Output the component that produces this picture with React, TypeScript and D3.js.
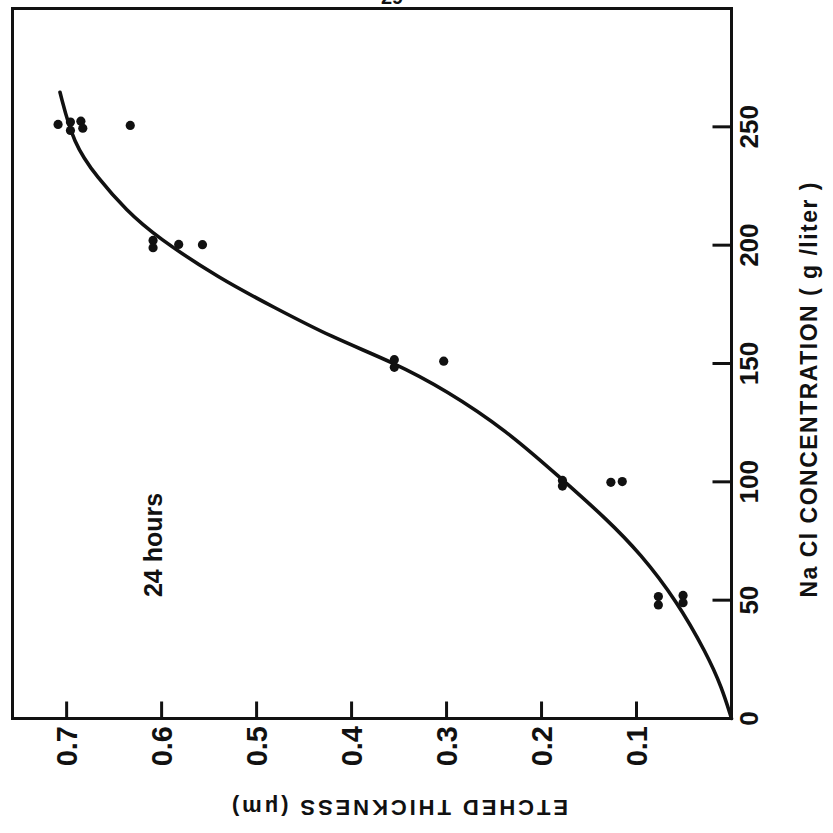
import React from "react";
import * as d3 from "d3";

// Concentration (g/liter) vs etched thickness (µm); chart is drawn rotated 90° CCW
const concTicks = [0, 50, 100, 150, 200, 250];
const thickTicks = [0.1, 0.2, 0.3, 0.4, 0.5, 0.6, 0.7];
const thickTickLabels = ["0.1", "0.2", "0.3", "0.4", "0.5", "0.6", "0.7"];

// measured points
const pointConc = [
  251, 252, 248.5, 252.4, 249.4, 250.6,
  202, 198.9, 200.3, 200.2,
  151.6, 148.4, 151,
  100.6, 98.2, 99.8, 100.1,
  51.5, 48, 52, 48.9,
];
const pointThick = [
  0.709, 0.696, 0.696, 0.685, 0.683, 0.633,
  0.609, 0.609, 0.582, 0.557,
  0.355, 0.355, 0.303,
  0.178, 0.178, 0.127, 0.115,
  0.077, 0.077, 0.051, 0.051,
];

// fitted curve
const curveConc = [0, 13.2, 27.3, 49.9, 69.7, 84.1, 102, 121.7, 138.6, 150.5, 161.1, 173.6, 185.9, 203.4, 214.6, 228.7, 242.9, 264.6];
const curveThick = [0, 0.0103, 0.026, 0.058, 0.096, 0.131, 0.181, 0.237, 0.3, 0.356, 0.421, 0.481, 0.539, 0.605, 0.637, 0.668, 0.693, 0.707];

const concDomain = [0, 300];
const thickDomain = [0, 0.757];

const FONT = "'Liberation Sans', Arial, sans-serif";

export default function App() {
  const W = 833, H = 833;
  const left = 12.5, right = 731.5, top = 8.5, bottom = 718.5;
  // concentration runs upward, thickness runs leftward
  const yC = d3.scaleLinear().domain(concDomain).range([bottom, top]);
  const xT = d3.scaleLinear().domain(thickDomain).range([right, left]);

  const line = d3
    .line<number>()
    .x((_, i) => xT(curveThick[i]))
    .y((d) => yC(d))
    .curve(d3.curveBasis);

  return (
    <svg
      width={W}
      height={H}
      style={{ position: "absolute", left: 0, top: 0, background: "#fff" }}
      fontFamily={FONT}
    >
      <rect x={0} y={0} width={W} height={H} fill="#fff" />
      {/* page number fragment */}
      <text x={392} y={4} fontSize={20} fontWeight="bold" textAnchor="middle" fill="#111">29</text>

      {/* frame */}
      <rect x={left} y={top} width={right - left} height={bottom - top} fill="none" stroke="#111" strokeWidth={3} />

      {/* concentration ticks (right axis, inward) */}
      {concTicks.map((c) => (
        <g key={"c" + c}>
          {c > 0 && (
            <line x1={right - 19} x2={right} y1={yC(c)} y2={yC(c)} stroke="#111" strokeWidth={3} />
          )}
          <text
            transform={`translate(${758},${yC(c)}) rotate(-90)`}
            textAnchor="middle"
            fontSize={26}
            fontWeight="bold"
            fill="#111"
          >
            {String(c)}
          </text>
        </g>
      ))}

      {/* thickness ticks (bottom axis, inward) */}
      {thickTicks.map((t, i) => (
        <g key={"t" + t}>
          <line x1={xT(t)} x2={xT(t)} y1={bottom - 17} y2={bottom} stroke="#111" strokeWidth={3} />
          <text
            transform={`translate(${xT(t) + 10.5},${726}) rotate(-90)`}
            textAnchor="end"
            fontSize={29}
            fontWeight="bold"
            fill="#111"
          >
            {thickTickLabels[i]}
          </text>
        </g>
      ))}

      {/* axis titles */}
      <text
        transform={`translate(${817},${390}) rotate(-90)`}
        textAnchor="middle"
        fontSize={23}
        fontWeight="bold"
        fill="#111"
        textLength={415}
        lengthAdjust="spacing"
      >
        Na Cl CONCENTRATION ( g /liter )
      </text>
      <text
        transform={`translate(${400},${800}) rotate(180)`}
        textAnchor="middle"
        fontSize={22}
        fontWeight="bold"
        fill="#111"
        textLength={336}
        lengthAdjust="spacing"
      >
        ETCHED THICKNESS (μm)
      </text>

      {/* annotation */}
      <text
        transform={`translate(${162},${545}) rotate(-90)`}
        textAnchor="middle"
        fontSize={25}
        fontWeight="bold"
        fill="#111"
      >
        24 hours
      </text>

      {/* fitted curve */}
      <path d={line(curveConc) || ""} fill="none" stroke="#111" strokeWidth={3.6} strokeLinecap="round" />

      {/* data points */}
      {pointConc.map((c, i) => (
        <circle key={"p" + i} cx={xT(pointThick[i])} cy={yC(c)} r={4.6} fill="#111" />
      ))}
    </svg>
  );
}
